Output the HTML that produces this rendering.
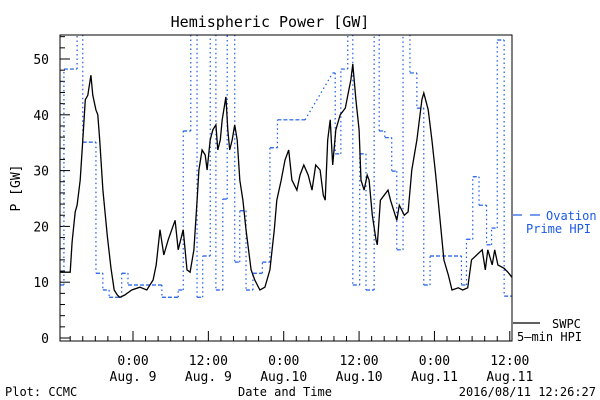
<!DOCTYPE html>
<html><head><meta charset="utf-8"><style>
body{margin:0;background:#fff;}
svg{display:block;font-family:"DejaVu Sans Mono","Liberation Mono",monospace;}
</style></head><body>
<svg id="chart" width="600" height="400">
<text x="270" y="27" font-size="15" text-anchor="middle">Hemispheric Power [GW]</text>
<text transform="translate(20,188) rotate(-90)" font-size="13" text-anchor="middle">P [GW]</text>
<text x="5" y="396" font-size="12">Plot: CCMC</text>
<text x="285" y="396" font-size="12" text-anchor="middle">Date and Time</text>
<text x="596" y="396" font-size="12" text-anchor="end">2016/08/11 12:26:27</text>
<g>
<line x1="513" y1="215" x2="522" y2="215" stroke="#1a5ae6" stroke-width="1.2"/>
<line x1="530" y1="215" x2="540" y2="215" stroke="#1a5ae6" stroke-width="1.2"/>
<text x="546" y="220" font-size="12" fill="#1a5ae6">Ovation</text>
<text x="526" y="233" font-size="12" fill="#1a5ae6">Prime HPI</text>
</g>
<g>
<line x1="513" y1="323" x2="540" y2="323" stroke="#000" stroke-width="1.2"/>
<text x="552" y="328" font-size="12">SWPC</text>
<text x="517" y="341" font-size="12">5—min HPI</text>
</g>
<defs><clipPath id="pc"><rect x="60" y="35" width="452" height="306"/></clipPath></defs>
<g id="axes"></g>
<g id="hpi" clip-path="url(#pc)"></g>
<g id="swpc" clip-path="url(#pc)"></g>
<rect x="60" y="35" width="452" height="306" fill="none" stroke="#000" stroke-width="1"/>
</svg>
<script>
// hours relative to Aug 9 00:00
const swpcT=[-11.6,-10.8,-10,-9.7,-9.2,-8.9,-8.4,-8,-7.6,-7.2,-6.7,-6.4,-5.9,-5.6,-5.3,-4.8,-4.1,-3.5,-3,-2.5,-2.1,-1.3,-0.2,1.1,2.2,3.2,3.7,4.3,4.9,5.6,6.7,7.2,8,8.6,9.1,9.7,10.2,10.5,11,11.5,11.8,12.3,12.7,13.2,13.5,13.9,14.2,14.8,15.1,15.4,15.8,16.2,16.6,17,17.5,18,18.8,19.4,20.2,21,21.8,22.5,22.9,23.6,24.2,24.8,25.3,26.1,26.6,27.2,27.9,28.5,29.1,29.8,30.3,30.6,31,31.4,31.8,32.3,33,33.8,34.2,34.7,35,35.5,36,36.3,36.8,37.3,37.6,38.1,38.7,38.9,39.4,40,40.6,41,42,42.4,43.2,43.8,44.4,45.2,46,46.3,47,47.6,48.2,48.9,49.5,50.2,50.8,51.8,52.5,53.3,53.9,55.6,56.1,56.5,57.2,57.6,58.1,59.1,59.7,60.4];
const swpcV=[11.8,11.8,11.8,17.2,22.6,23.8,28.3,35.5,42.7,43.5,47.1,43.5,40.9,40,35.5,26.5,18.3,12.5,8.6,7.7,7.3,7.7,8.6,9.1,8.6,10.4,13.1,19.4,14.9,17.6,21.1,15.8,19.4,12.2,11.8,15.8,24.7,30.1,33.7,32.8,30.1,35.5,37.3,38.2,33.7,35.5,39.1,43.2,37.3,33.7,35.5,38.2,35.5,28.3,24.7,19.4,12.2,10.4,8.6,9.1,12.2,19.4,24.7,28.3,31.9,33.7,28.3,26.5,29.2,31,29.2,26.5,31,30.1,25.6,24.7,35.5,39.1,31,37.3,40,41.2,43.5,46.3,49.1,42.7,37.3,28.3,26.5,29.2,28.3,22,17.6,16.7,24.7,25.6,26.5,24.7,21.1,23.8,22,22.6,30.1,35.5,42.7,43.9,40.9,35.5,29.2,21.1,14,11.3,8.6,9,8.6,9,14,15.8,12.2,15.8,13.1,15.8,13.1,12.5,11.8,10.8];
const hpiT=[-11.6,-11,-8.9,-8,-5.9,-4.8,-3.8,-1.8,-0.8,4.6,7.2,8,9.2,10.2,11.1,12.3,13.2,14.3,15,16.2,17,18,19.1,20.6,21.8,23,27.4,31.8,32.2,33.1,34.2,35,36.1,37.1,38.4,39.2,40.1,41.2,42,43,44.1,45.2,46.3,47.3,52.3,53.1,54.1,55.1,56.3,57.1,58,59.1,60.5];
const hpiV=[9.5,48.2,60,35.1,11.6,8.6,7.3,11.6,9.5,7.3,8.6,37.1,60,7.3,14.7,60,8.6,24.9,60,13.6,22.8,8.6,11.6,13.6,34.1,39.1,39.1,47.5,33,48.2,60,9.5,33,8.6,60,37.1,35.9,29.9,15.8,60,47.5,41.2,9.5,14.7,9.5,17.7,28.9,23.8,16.7,19.7,53.4,7.5,7.5];
const rampIdx=[26];
const yTicks=[0,10,20,30,40,50];
const xTickHours=[0,12,24,36,48,60];
const xTickTop=["0:00","12:00","0:00","12:00","0:00","12:00"];
const xTickBot=["Aug. 9","Aug. 9","Aug.10","Aug.10","Aug.11","Aug.11"];

const X=h=>133+h*6.28, Y=v=>338-v*5.58;
const NS="http://www.w3.org/2000/svg";
function mk(tag,parent,attrs){const e=document.createElementNS(NS,tag);for(const k in attrs)e.setAttribute(k,attrs[k]);parent.appendChild(e);return e;}
const ax=document.getElementById('axes');
for(let v=0;v<=54;v+=2){
  const major=v%10===0;
  const t=mk('line',ax,{x1:60,x2:60+(major?10:5),y1:Y(v),y2:Y(v),stroke:'#000'});
  
  
}
yTicks.forEach(v=>{
  const t=mk('text',ax,{x:49,y:Y(v)+5,'font-size':13,'text-anchor':'end'});
  t.textContent=v;
  
  
});
for(let h=-10;h<=60;h+=2){
  const major=h%12===0;
  const t=mk('line',ax,{x1:X(h),x2:X(h),y1:341,y2:341-(major?10:5),stroke:'#000'});
  
  
}
xTickHours.forEach((h,i)=>{
  const a=mk('text',ax,{x:X(h),y:365,'font-size':13,'text-anchor':'middle'});
  a.textContent=xTickTop[i];
  
  
  const b=mk('text',ax,{x:X(h),y:381,'font-size':13,'text-anchor':'middle'});
  b.textContent=xTickBot[i];
  
  
});
// HPI step series
const hg=document.getElementById('hpi');
for(let i=0;i<hpiT.length-1;i++){
  let seg;
  if(rampIdx.includes(i)){
    seg=mk('line',hg,{x1:X(hpiT[i]),y1:Y(hpiV[i]),x2:X(hpiT[i+1]),y2:Y(hpiV[i+1]),stroke:'#1a5ae6','stroke-width':1.2,'stroke-dasharray':'1.5,3'});
  } else {
    seg=mk('line',hg,{x1:X(hpiT[i]),y1:Y(hpiV[i]),x2:X(hpiT[i+1]),y2:Y(hpiV[i]),stroke:'#1a5ae6','stroke-width':1.2,'stroke-dasharray':'4,2'});
    if(i<hpiT.length-2){
      const vv=mk('line',hg,{x1:X(hpiT[i+1]),y1:Y(hpiV[i]),x2:X(hpiT[i+1]),y2:Y(hpiV[i+1]),stroke:'#1a5ae6','stroke-width':1.2,'stroke-dasharray':'1.5,3'});
      
      
    }
  }
  
  
}
// SWPC line
const sg=document.getElementById('swpc');
const pts=swpcT.map((t,i)=>X(t).toFixed(1)+','+Y(swpcV[i]).toFixed(1)).join(' ');
const pl=mk('polyline',sg,{points:pts,fill:'none',stroke:'#000','stroke-width':1.3});


</script>
</body></html>
